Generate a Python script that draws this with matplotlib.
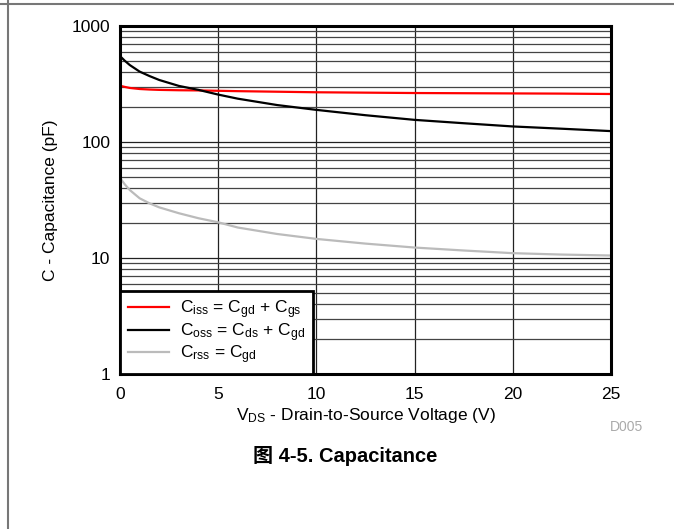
import matplotlib.pyplot as plt
from matplotlib.lines import Line2D
from matplotlib.ticker import FixedLocator, NullFormatter

plt.rcParams['font.family'] = ['Liberation Sans', 'Noto Sans CJK SC', 'DejaVu Sans']
plt.rcParams['mathtext.fontset'] = 'custom'
plt.rcParams['mathtext.rm'] = 'Liberation Sans'

# capacitance vs drain-source voltage
vds = [0, 0.25, 0.5, 1, 1.5, 2, 3, 4, 5, 6, 8, 10, 12.5, 15, 17.5, 20, 22.5, 25]
ciss = [305, 298, 292, 286, 283, 281, 279, 278, 276, 274, 271, 268, 266, 264, 263, 262, 261, 259]
coss = [550, 500, 460, 404, 370, 342, 304, 281, 256, 236, 208, 189, 170, 155, 145, 136, 130, 124]
crss = [49, 43, 38.5, 32.7, 29.6, 27.3, 24.3, 22, 20.3, 18.3, 16.1, 14.6, 13.3, 12.3, 11.6, 11.0, 10.7, 10.5]

labels = [r'$\mathregular{C_{iss}}$ = $\mathregular{C_{gd}}$ + $\mathregular{C_{gs}}$',
          r'$\mathregular{C_{oss}}$ = $\mathregular{C_{ds}}$ + $\mathregular{C_{gd}}$',
          r'$\mathregular{C_{rss}}$ = $\mathregular{C_{gd}}$']
colors = ['#ff0000', '#000000', '#bbbbbb']

fig = plt.figure(figsize=(6.74, 5.29), dpi=100)
ax = fig.add_axes([0.178, 0.293, 0.7285, 0.658])

for y, c, lab in zip([ciss, coss, crss], colors, labels):
    ax.plot(vds, y, color=c, lw=1.6, label=lab, zorder=3)

ax.set_yscale('log')
ax.set_xlim(0, 25)
ax.set_ylim(1, 1000)
ax.set_xticks([0, 5, 10, 15, 20, 25])
ax.yaxis.set_major_locator(FixedLocator([1, 10, 100, 1000]))
ax.set_yticklabels(['1', '10', '100', '1000'])
ax.yaxis.set_minor_locator(FixedLocator([m * d for d in [1, 10, 100] for m in range(2, 10)]))
ax.yaxis.set_minor_formatter(NullFormatter())
ax.tick_params(which='both', length=0, labelsize=12.5, pad=7)
ax.tick_params(axis='x', pad=9)
ax.grid(which='major', color='#222222', lw=0.9)
ax.grid(which='minor', axis='y', color='#444444', lw=0.9)
for s in ax.spines.values():
    s.set_linewidth(2.2)
    s.set_zorder(4)

ax.set_xlabel(r'$\mathregular{V_{DS}}$ - Drain-to-Source Voltage (V)', fontsize=12.5, labelpad=3)
ax.set_ylabel('C - Capacitance (pF)', fontsize=12.5, labelpad=10)

leg = ax.legend(loc='lower left', fontsize=12.5, frameon=True, fancybox=False,
                borderaxespad=0, handlelength=2.4, labelspacing=0.0,
                borderpad=0.45, handletextpad=0.6)
leg.get_frame().set_edgecolor('black')
leg.get_frame().set_linewidth(2)
leg.get_frame().set_alpha(1)
leg.set_zorder(5)

fig.text(0.93, 0.186, 'D005', color='#aaaaaa', fontsize=10, ha='center')
fig.text(0.512, 0.126, '图 4-5. Capacitance', fontsize=14.5, fontweight='bold', ha='center')

# page border lines
fig.add_artist(Line2D([0, 1], [0.992, 0.992], color='#777777', lw=1.5, transform=fig.transFigure))
fig.add_artist(Line2D([0.012, 0.012], [0, 1], color='#777777', lw=1.5, transform=fig.transFigure))

fig.savefig('out.png', dpi=100)
